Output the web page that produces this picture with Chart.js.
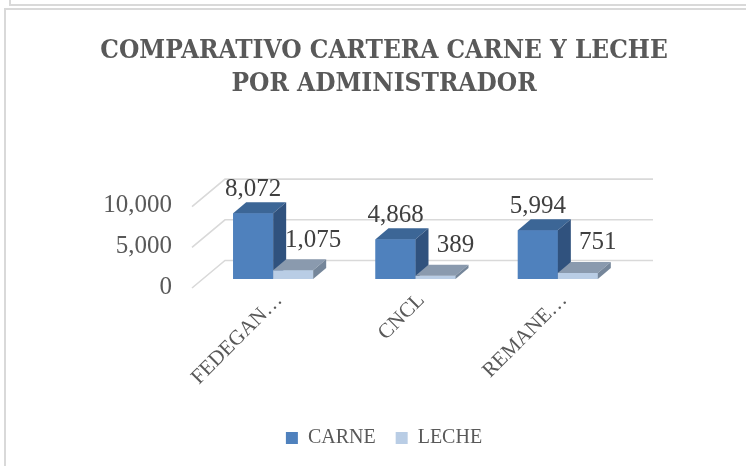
<!DOCTYPE html>
<html>
<head>
<meta charset="utf-8">
<script src="https://cdn.jsdelivr.net/npm/chart.js@4/dist/chart.umd.min.js"></script>
<style>
  html, body { margin:0; padding:0; background:#fff; }
  #wrap { position:relative; width:746px; height:466px; overflow:hidden; }
  .frame1 { position:absolute; left:9px; top:-2px; width:740px; height:6px; border-left:2px solid #d9d9d9; border-bottom:2px solid #d9d9d9; }
  .frame2 { position:absolute; left:4px; top:8px; width:750px; height:470px; border-left:2px solid #d9d9d9; border-top:2px solid #d9d9d9; }
  canvas { position:absolute; left:0; top:0; }
</style>
</head>
<body>
<div id="wrap">
  <div class="frame1"></div>
  <div class="frame2"></div>
  <canvas id="chart" width="746" height="466"></canvas>
</div>
<script>
const categories = ['FEDEGAN…', 'CNCL', 'REMANE…'];
const carne = [8072, 4868, 5994];
const leche = [1075, 389, 751];
const yTicks = [0, 5000, 10000];

const GREY = '#595959';
const SERIF = "'Liberation Serif', 'DejaVu Serif', serif";
const shades = [
  { front:'#4f81bd', top:'#3c6696', side:'#30527e' },
  { front:'#b9cde5', top:'#8a9aae', side:'#75869a' }
];
const fmt = v => v.toLocaleString('en-US');

// back wall, floor diagonals, 3D faces of the bars and value labels
const depth3d = {
  id:'depth3d',
  beforeDatasetsDraw(chart) {
    const { ctx, chartArea:a, scales:{ y } } = chart;
    ctx.save();
    ctx.strokeStyle = '#d9d9d9';
    ctx.lineWidth = 1.6;
    yTicks.forEach(v => {
      const yy = y.getPixelForValue(v);
      ctx.beginPath();
      ctx.moveTo(a.left - 10, yy + 9);
      ctx.lineTo(a.left + 23, yy - 18.5);
      ctx.lineTo(a.right + 24, yy - 18.5);
      ctx.stroke();
    });
    ctx.restore();
  },
  afterDatasetsDraw(chart) {
    const { ctx } = chart;
    const dx = 13, dy = -11;
    const poly = pts => {
      ctx.beginPath();
      pts.forEach((p, i) => i ? ctx.lineTo(p[0], p[1]) : ctx.moveTo(p[0], p[1]));
      ctx.closePath();
      ctx.fill();
    };
    ctx.save();
    chart.data.datasets.forEach((ds, di) => {
      const meta = chart.getDatasetMeta(di);
      meta.data.forEach(bar => {
        const { x, y, base, width } = bar.getProps(['x', 'y', 'base', 'width'], true);
        const l = x - width / 2, r = x + width / 2;
        ctx.fillStyle = shades[di].front;
        ctx.fillRect(l, y, width, base - y);
        ctx.fillStyle = shades[di].top;
        poly([[l, y], [r, y], [r + dx, y + dy], [l + dx, y + dy]]);
        ctx.fillStyle = shades[di].side;
        poly([[r, y], [r + dx, y + dy], [r + dx, base + dy], [r, base]]);
      });
    });
    // value labels
    ctx.font = "25px " + SERIF;
    ctx.fillStyle = '#404040';
    ctx.textAlign = 'center';
    ctx.textBaseline = 'middle';
    chart.data.datasets.forEach((ds, di) => {
      const meta = chart.getDatasetMeta(di);
      meta.data.forEach((bar, i) => {
        const { x, y } = bar.getProps(['x', 'y'], true);
        if (di === 0) ctx.fillText(fmt(ds.data[i]), x, y - 24);
        else ctx.fillText(fmt(ds.data[i]), x + 20, y - 30);
      });
    });
    ctx.restore();
  }
};

new Chart(document.getElementById('chart'), {
  type:'bar',
  data:{
    labels: categories,
    datasets:[
      { label:'CARNE', data:carne, backgroundColor:shades[0].front, borderWidth:0, barPercentage:1, categoryPercentage:0.562 },
      { label:'LECHE', data:leche, backgroundColor:shades[1].front, borderWidth:0, barPercentage:1, categoryPercentage:0.562 }
    ]
  },
  options:{
    responsive:false,
    animation:false,
    layout:{ padding:{ left:95, right:73, top:0, bottom:8 } },
    plugins:{
      tooltip:{ enabled:false },
      title:{
        display:true,
        text:['COMPARATIVO CARTERA CARNE Y LECHE', 'POR ADMINISTRADOR'],
        color:GREY,
        font:{ family:"'DejaVu Serif Condensed', 'Liberation Serif', serif", size:26, weight:'bold', lineHeight:1.3 },
        padding:{ top:34, bottom:96 }
      },
      legend:{
        position:'bottom',
        labels:{ color:GREY, font:{ family:SERIF, size:20 }, boxWidth:12, boxHeight:12, padding:20 }
      }
    },
    scales:{
      x:{
        grid:{ display:false, drawTicks:false },
        border:{ display:false },
        ticks:{ color:GREY, font:{ family:SERIF, size:21 }, minRotation:45, maxRotation:45, padding:9, labelOffset:6 },
        afterFit(scale){ scale.height = 129; }
      },
      y:{
        min:0, max:10000,
        grid:{ display:false, drawTicks:false },
        border:{ display:false },
        ticks:{ stepSize:5000, color:GREY, font:{ family:SERIF, size:25 }, padding:30, labelOffset:8, callback:v => fmt(v) },
        afterFit(scale){ scale.width = 107; }
      },
      // empty spacer on the right so the plot ends where the reference does
      yR:{
        position:'right',
        grid:{ display:false, drawTicks:false },
        border:{ display:false },
        ticks:{ display:false },
        afterFit(scale){ scale.width = 44; }
      }
    }
  },
  plugins:[depth3d]
});
</script>
</body>
</html>
